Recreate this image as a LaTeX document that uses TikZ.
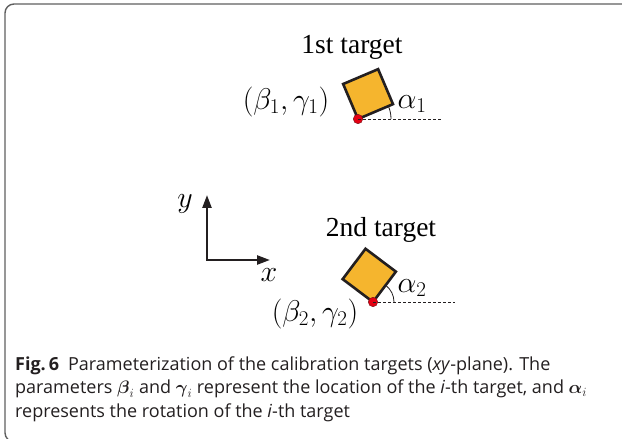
\RequirePackage{fix-cm}
\documentclass[tikz,border=0pt]{standalone}
\usepackage{amsmath,amssymb}
\usepackage{fontspec}
\setmainfont{Liberation Serif}
\newfontfamily\capfont{Open Sans}
\definecolor{tgorange}{RGB}{245,181,46}
\definecolor{tgdark}{RGB}{35,31,32}
\definecolor{tgred}{RGB}{228,0,18}
\definecolor{framegray}{RGB}{95,95,95}
\usetikzlibrary{arrows.meta,positioning}

\begin{document}
\begin{tikzpicture}[
  x=1pt,y=1pt,
  target/.style={draw=tgdark,fill=tgorange,line width=2.6pt,minimum size=38pt,
                 inner sep=0pt,outer sep=0pt,anchor=south west},
  refdot/.style={circle,fill=tgred,draw=tgdark!60!tgred,line width=0.4pt,
                 minimum size=9.5pt,inner sep=0pt},
  axisarr/.style={{Triangle[length=13pt,width=9pt]}-{Triangle[length=13pt,width=9pt]},
                  line width=2.4pt,tgdark,line join=miter},
  refline/.style={dash pattern=on 3pt off 2pt,line width=0.9pt,tgdark},
  anglearc/.style={line width=0.8pt,tgdark},
  txtlbl/.style={font=\fontsize{27.5}{32}\selectfont},
  mathlbl/.style={font=\fontsize{30}{36}\selectfont},
]
  \useasboundingbox (0,0) rectangle (622,439);
  \clip (0,0) rectangle (622,439);

  % frame
  \draw[framegray,line width=1.4pt,rounded corners=9pt] (5,435) rectangle (640,-2.8);

  % axes
  \coordinate (orig) at (207,179);
  \coordinate (ytip) at (207,244);
  \coordinate (xtip) at (270,179);
  \draw[axisarr] (ytip) -- (orig) -- (xtip);
  \node[mathlbl] (ylbl) at (185,235) {$y$};
  \node[mathlbl] (xlbl) at (269,164) {$x$};

  % 1st target
  \node[target,rotate=23] (sq1) at (358,320) {};
  \node[refdot] (dot1) at (358,320) {};
  \coordinate (end1) at (441,320);
  \draw[refline] (dot1.center) -- (end1);
  \draw[anglearc] ([xshift=33pt]dot1.center) arc[start angle=0,end angle=23,radius=33pt];
  \node[mathlbl] (alpha1) at (412,335) {$\alpha_1$};
  \node[mathlbl] (pos1) at (286,337) {$(\beta_1,\gamma_1)$};
  \node[txtlbl] (name1) at (352,392) {1st target};

  % 2nd target
  \node[target,rotate=53] (sq2) at (373,137) {};
  \node[refdot] (dot2) at (373,137) {};
  \coordinate (end2) at (455,137);
  \draw[refline] (dot2.center) -- (end2);
  \draw[anglearc] ([xshift=21pt]dot2.center) arc[start angle=0,end angle=53,radius=21pt];
  \node[mathlbl] (alpha2) at (412,151) {$\alpha_2$};
  \node[mathlbl] (pos2) at (315,125) {$(\beta_2,\gamma_2)$};
  \node[txtlbl] (name2) at (381,209) {2nd target};

  % caption
  \node[anchor=west,align=left,inner sep=0pt,text=tgdark,
        font=\capfont\fontsize{18}{23.5}\selectfont] (caption) at (15,50) {%
    {\bfseries Fig.\,6}\enspace Parameterization of the calibration targets (\textit{xy}-plane). The\\
    parameters $\boldsymbol{\beta}_i$ and $\boldsymbol{\gamma}_i$ represent the location of the \textit{i}-th target, and $\boldsymbol{\alpha}_i$\\
    represents the rotation of the \textit{i}-th target};
\end{tikzpicture}
\end{document}
